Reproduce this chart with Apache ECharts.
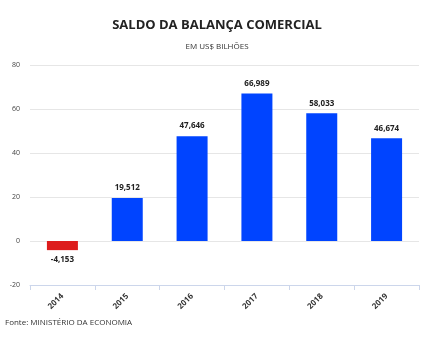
<!DOCTYPE html>
<html><head><meta charset="utf-8">
<script src="https://cdn.jsdelivr.net/npm/echarts@6/dist/echarts.min.js"></script>
<style>html,body{margin:0;padding:0;background:#fff}#c{width:434px;height:340px}</style>
</head><body><div id="c"></div>
<script>
const categories = ['2014','2015','2016','2017','2018','2019'];
const values = [-4.153, 19.512, 47.646, 66.989, 58.033, 46.674];
const valueLabels = ['-4,153','19,512','47,646','66,989','58,033','46,674'];
const yTicks = [-20, 0, 20, 40, 60, 80];

const chart = echarts.init(document.getElementById('c'));
const F = '"Open Sans", sans-serif';
chart.setOption({
  animation: false,
  title: [
    {text: 'SALDO DA BALANÇA COMERCIAL', left: 'center', top: 14,
     textStyle: {fontFamily: F, fontSize: 13, fontWeight: 'bold', color: '#222'}},
    {text: 'EM US$ BILHÕES', left: 'center', top: 38,
     textStyle: {fontFamily: F, fontSize: 8, fontWeight: 'normal', color: '#333'}},
    {text: 'Fonte: MINISTÉRIO DA ECONOMIA', left: 0, top: 314,
     textStyle: {fontFamily: F, fontSize: 8, fontWeight: 'normal', color: '#333'}}
  ],
  grid: {left: 30, right: 15, top: 65, bottom: 55},
  xAxis: {
    type: 'category', data: categories,
    axisLine: {show: true, onZero: false, lineStyle: {color: '#ccd6eb'}},
    axisTick: {show: true, length: 5, lineStyle: {color: '#ccd6eb'}},
    axisLabel: {rotate: 45, fontFamily: F, fontSize: 8, fontWeight: 'bold', color: '#333', margin: 10}
  },
  yAxis: [{
    type: 'value', min: yTicks[0], max: yTicks[yTicks.length-1], interval: 20,
    axisLine: {show: false}, axisTick: {show: false},
    axisLabel: {fontFamily: F, fontSize: 7, color: '#444', margin: 10},
    splitLine: {lineStyle: {color: '#e6e6e6', width: 1}}
  }],
  series: [{
    type: 'bar', barWidth: 31,
    data: values.map((v, i) => ({
      value: v,
      itemStyle: {color: v < 0 ? '#dd1c1c' : '#0044ff'},
      label: {position: v < 0 ? 'bottom' : 'top'}
    })),
    label: {
      show: true, fontFamily: F, fontSize: 8, fontWeight: 'bold', color: '#222', distance: 6,
      formatter: p => valueLabels[p.dataIndex]
    }
  }]
});
</script></body></html>
